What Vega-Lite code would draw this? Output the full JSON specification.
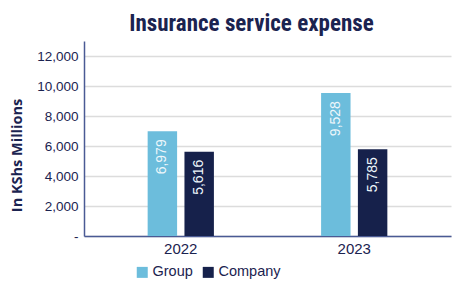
{
  "$schema": "https://vega.github.io/schema/vega-lite/v6.json",
  "autosize": "none",
  "width": 367,
  "height": 195,
  "padding": {"left": 84, "top": 41, "right": 8, "bottom": 47},
  "background": "white",
  "title": {
    "text": "Insurance service expense",
    "font": "Liberation Sans Narrow, Arial Narrow, Roboto Condensed, Liberation Sans, sans-serif",
    "fontSize": 23,
    "fontWeight": "bold",
    "color": "#1B2350",
    "anchor": "middle",
    "dx": -16,
    "offset": 5
  },
  "data": {
    "values": [
      {"year": "2022", "entity": "Group", "value": 6979},
      {"year": "2022", "entity": "Company", "value": 5616},
      {"year": "2023", "entity": "Group", "value": 9528},
      {"year": "2023", "entity": "Company", "value": 5785}
    ]
  },
  "config": {
    "view": {"stroke": null},
    "font": "Liberation Sans Narrow, Arial Narrow, Liberation Sans, sans-serif"
  },
  "encoding": {
    "x": {
      "field": "year", "type": "nominal",
      "scale": {"paddingInner": 0.618, "paddingOuter": 0.367},
      "axis": {
        "title": null, "labelAngle": 0, "ticks": false,
        "labelFontSize": 15, "labelColor": "#1B2350", "labelPadding": 5,
        "domainColor": "#4A5A94", "domainWidth": 1.5,
        "labelFont": "Liberation Sans Narrow, Arial Narrow, Liberation Sans, sans-serif"
      }
    },
    "xOffset": {"field": "entity", "type": "nominal", "sort": ["Group", "Company"], "scale": {"paddingInner": 0.2}},
    "y": {
      "field": "value", "type": "quantitative",
      "scale": {"domain": [0, 13000], "nice": false},
      "axis": {
        "values": [0, 2000, 4000, 6000, 8000, 10000, 12000],
        "labelExpr": "datum.value == 0 ? '-' : format(datum.value, ',')",
        "title": "In KShs Millions",
        "titleFont": "Open Sans, sans-serif",
        "titleFontSize": 14.5,
        "titleFontWeight": "bold",
        "titleColor": "#1B2350",
        "titleAngle": 270,
        "titleAlign": "center",
        "titleBaseline": "middle",
        "titleX": -67,
        "titleY": 114,
        "ticks": false,
        "labelFontSize": 13.5,
        "labelColor": "#1B2350",
        "labelPadding": 6,
        "labelFont": "Liberation Sans Narrow, Arial Narrow, Liberation Sans, sans-serif",
        "domainColor": "#4A5A94",
        "domainWidth": 1.5,
        "gridColor": "#DCDCDC",
        "gridWidth": 1.5
      }
    }
  },
  "layer": [
    {
      "mark": {"type": "bar"},
      "encoding": {
        "color": {
          "field": "entity", "type": "nominal",
          "scale": {"domain": ["Group", "Company"], "range": ["#6CBDDC", "#16214B"]},
          "legend": {
            "title": null, "orient": "none", "direction": "horizontal",
            "legendX": 51, "legendY": 224,
            "symbolType": "square", "symbolSize": 121, "symbolStrokeWidth": 0,
            "labelFontSize": 14.5, "labelColor": "#1B2350",
            "labelFont": "Liberation Sans Narrow, Arial Narrow, Liberation Sans, sans-serif",
            "columnPadding": 8, "labelOffset": 3
          }
        }
      }
    },
    {
      "mark": {"type": "text", "angle": 270, "align": "right", "baseline": "middle", "dx": -8, "fontSize": 14, "color": "#EEF7FB"},
      "encoding": {
        "text": {"field": "value", "type": "quantitative", "format": ","}
      }
    }
  ]
}
